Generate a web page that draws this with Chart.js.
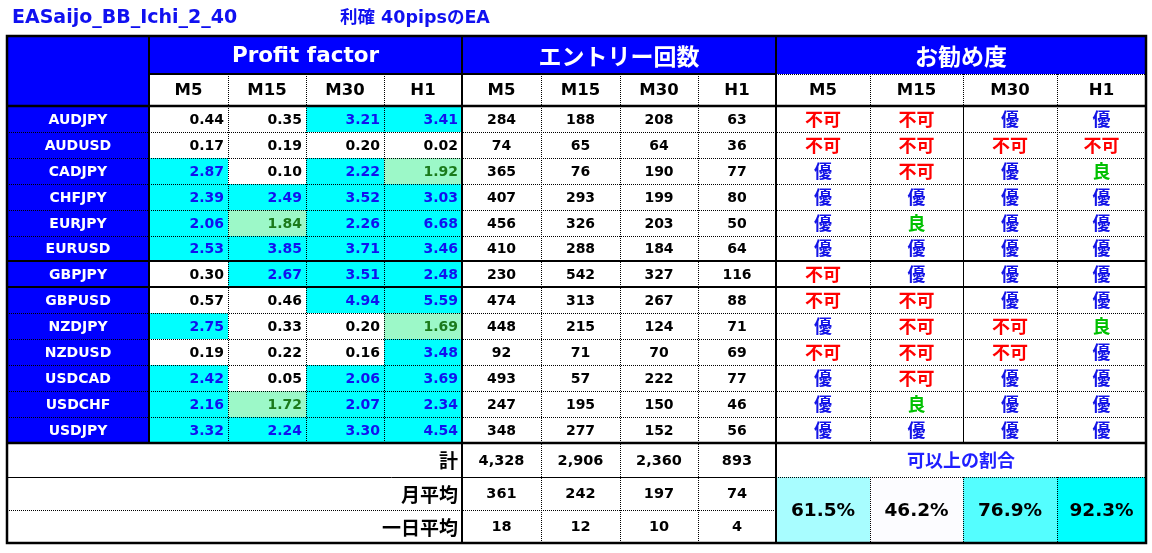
<!DOCTYPE html>
<html><head><meta charset="utf-8">
<script src="https://cdn.jsdelivr.net/npm/chart.js@4.4.0/dist/chart.umd.min.js"></script>
<style>html,body{margin:0;padding:0;background:#fff;}#wrap{width:1152px;height:553px;position:relative;}</style>
</head><body><div id="wrap"><canvas id="c"></canvas></div>
<script>
// ---- data ----
const titleMain = "EASaijo_BB_Ichi_2_40";
const titleSub = "利確 40pipsのEA";
const groupHeaders = ["Profit factor", "エントリー回数", "お勧め度"];
const timeframes = ["M5", "M15", "M30", "H1"];
const pairs = ["AUDJPY","AUDUSD","CADJPY","CHFJPY","EURJPY","EURUSD","GBPJPY","GBPUSD","NZDJPY","NZDUSD","USDCAD","USDCHF","USDJPY"];
const pfM5  = [0.44,0.17,2.87,2.39,2.06,2.53,0.30,0.57,2.75,0.19,2.42,2.16,3.32];
const pfM15 = [0.35,0.19,0.10,2.49,1.84,3.85,2.67,0.46,0.33,0.22,0.05,1.72,2.24];
const pfM30 = [3.21,0.20,2.22,3.52,2.26,3.71,3.51,4.94,0.20,0.16,2.06,2.07,3.30];
const pfH1  = [3.41,0.02,1.92,3.03,6.68,3.46,2.48,5.59,1.69,3.48,3.69,2.34,4.54];
const entM5  = [284,74,365,407,456,410,230,474,448,92,493,247,348];
const entM15 = [188,65,76,293,326,288,542,313,215,71,57,195,277];
const entM30 = [208,64,190,199,203,184,327,267,124,70,222,150,152];
const entH1  = [63,36,77,80,50,64,116,88,71,69,77,46,56];
const recM5  = ["不可","不可","優","優","優","優","不可","不可","優","不可","優","優","優"];
const recM15 = ["不可","不可","不可","優","良","優","優","不可","不可","不可","不可","良","優"];
const recM30 = ["優","不可","優","優","優","優","優","優","不可","不可","優","優","優"];
const recH1  = ["優","不可","良","優","優","優","優","優","良","優","優","優","優"];
const summaryLabels = ["計", "月平均", "一日平均"];
const totals = [4328, 2906, 2360, 893];
const monthlyAvg = [361, 242, 197, 74];
const dailyAvg = [18, 12, 10, 4];
const ratioLabel = "可以上の割合";
const okRatio = [61.5, 46.2, 76.9, 92.3];

// ---- layout (relative sizes) ----
const colW = [142, 79,78,78,78, 79,79,78,78, 94,93,94,89];
const rowH = [38, 32].concat(pairs.map(() => 25.9)).concat([34.3, 33, 33]);
const xEdges = [0]; colW.forEach(w => xEdges.push(xEdges[xEdges.length-1] + w));
const yEdges = [0]; rowH.forEach(h => yEdges.push(yEdges[yEdges.length-1] + h));

const pfCols = [pfM5, pfM15, pfM30, pfH1];
const entCols = [entM5, entM15, entM30, entH1];
const recCols = [recM5, recM15, recM30, recH1];

const BLUE = '#0000FF', CYAN = '#00FFFF', LGREEN = '#9CF8C8';
const LAT = "'DejaVu Sans', 'Noto Sans CJK JP', sans-serif";
const CJK = "'Noto Sans CJK JP', 'DejaVu Sans', sans-serif";
const fmt = new Intl.NumberFormat('en-US');

const tablePlugin = {
  id: 'tableDraw',
  afterDatasetsDraw(chart) {
    const ctx = chart.ctx;
    const xs = chart.scales.x, ys = chart.scales.y;
    const X = i => Math.round(xs.getPixelForValue(xEdges[i]));
    const Y = j => Math.round(ys.getPixelForValue(yEdges[j]));
    const fill = (c0, r0, c1, r1, col) => { ctx.fillStyle = col; ctx.fillRect(X(c0), Y(r0), X(c1)-X(c0), Y(r1)-Y(r0)); };
    const text = (s, px, py, font, col, align) => {
      ctx.font = font; ctx.fillStyle = col; ctx.textAlign = align || 'center'; ctx.textBaseline = 'middle';
      ctx.fillText(s, px, py);
    };
    const hline = (yy, c0, c1, w, dotted) => {
      ctx.save(); ctx.strokeStyle = '#000'; ctx.lineWidth = w;
      ctx.setLineDash(dotted ? [1,1] : []);
      const p = w % 2 === 1 ? 0.5 : 0;
      ctx.beginPath(); ctx.moveTo(X(c0), Y(yy)+p); ctx.lineTo(X(c1), Y(yy)+p); ctx.stroke(); ctx.restore();
    };
    const vline = (xx, r0, r1, w, dotted) => {
      ctx.save(); ctx.strokeStyle = '#000'; ctx.lineWidth = w;
      ctx.setLineDash(dotted ? [1,1] : []);
      const p = w % 2 === 1 ? 0.5 : 0;
      ctx.beginPath(); ctx.moveTo(X(xx)+p, Y(r0)); ctx.lineTo(X(xx)+p, Y(r1)); ctx.stroke(); ctx.restore();
    };
    const nR = pairs.length;
    const dataTop = 2, dataBot = 2 + nR;

    // titles
    text(titleMain, X(0)+5, Y(0)-18, `bold 19px ${LAT}`, '#1010F0', 'left');
    text(titleSub, X(0)+333, Y(0)-18, `bold 17.5px ${LAT}`, '#1010F0', 'left');

    // fills
    fill(0, 0, 1, dataBot, BLUE);
    fill(1, 0, 5, 1, BLUE); fill(5, 0, 9, 1, BLUE); fill(9, 0, 13, 1, BLUE);
    pfCols.forEach((col, ci) => col.forEach((v, ri) => {
      if (v >= 2) fill(1+ci, dataTop+ri, 2+ci, dataTop+ri+1, CYAN);
      else if (v >= 1.5) fill(1+ci, dataTop+ri, 2+ci, dataTop+ri+1, LGREEN);
    }));
    const mn = Math.min(...okRatio), mx = Math.max(...okRatio);
    okRatio.forEach((v, i) => {
      const t = (v - mn) / (mx - mn);
      const r = Math.round(252 * (1 - t)), g = Math.round(252 + 3 * t);
      fill(9+i, dataBot+1, 10+i, dataBot+3, `rgb(${r},${g},255)`);
    });

    // horizontal lines
    for (let j = dataTop+1; j < dataBot; j++) {
      if (j === dataTop+6 || j === dataTop+7) hline(j, 0, 13, 2, false);
      else hline(j, 0, 13, 1, true);
    }
    hline(1, 1, 9, 2, false); hline(1, 9, 13, 1, true);
    hline(2, 0, 13, 2.5, false);
    hline(dataBot, 0, 13, 2.5, false);
    hline(dataBot+1, 0, 9, 1, false); hline(dataBot+1, 9, 13, 1, true);
    hline(dataBot+2, 0, 9, 1, true);

    // vertical lines
    [2,3,4].forEach(c => vline(c, 1, dataBot, 1, true));
    [6,7,8].forEach(c => vline(c, 1, dataBot+3, 1, true));
    [10,12].forEach(c => { vline(c, 1, dataBot, 1, true); vline(c, dataBot+1, dataBot+3, 1, true); });
    vline(11, 1, 2, 1, true); vline(11, 2, dataBot, 1, false); vline(11, dataBot+1, dataBot+3, 1, true);
    vline(1, 0, dataBot, 2, false);
    vline(5, 0, dataBot+3, 2, false);
    vline(9, 0, dataBot+3, 2, false);

    // outer border
    ctx.save(); ctx.strokeStyle = '#000'; ctx.lineWidth = 2.5;
    ctx.strokeRect(X(0), Y(0), X(13)-X(0), Y(dataBot+3)-Y(0)); ctx.restore();

    const cx = c => (X(c)+X(c+1))/2, cy = r => (Y(r)+Y(r+1))/2;
    // headers
    text(groupHeaders[0], (X(1)+X(5))/2, cy(0)+1, `bold 21.5px ${LAT}`, '#fff');
    text(groupHeaders[1], (X(5)+X(9))/2, cy(0)+1, `bold 23px ${CJK}`, '#fff');
    text(groupHeaders[2], (X(9)+X(13))/2, cy(0)+1, `bold 23px ${CJK}`, '#fff');
    for (let g = 0; g < 3; g++) timeframes.forEach((tf, i) => text(tf, cx(1+g*4+i), cy(1)+1, `bold 16.5px ${LAT}`, '#000'));

    // data rows
    pairs.forEach((p, ri) => {
      const r = dataTop + ri;
      text(p, cx(0), cy(r)+1, `bold 14px ${LAT}`, '#fff');
      pfCols.forEach((col, ci) => {
        const v = col[ri];
        const color = v >= 2 ? '#1212EE' : (v >= 1.5 ? '#1B7A1B' : '#000');
        text(v.toFixed(2), X(2+ci)-4, cy(r)+1, `bold 14px ${LAT}`, color, 'right');
      });
      entCols.forEach((col, ci) => text(String(col[ri]), cx(5+ci), cy(r)+1, `bold 14px ${LAT}`, '#000'));
      recCols.forEach((col, ci) => {
        const s = col[ri];
        const color = s === '不可' ? '#FF0000' : (s === '良' ? '#00C000' : '#1414E6');
        text(s, cx(9+ci), cy(r), `bold 18px ${CJK}`, color);
      });
    });

    // summary rows
    summaryLabels.forEach((s, i) => text(s, X(5)-4, cy(dataBot+i)+1, `bold 19px ${CJK}`, '#000', 'right'));
    [totals, monthlyAvg, dailyAvg].forEach((arr, i) => arr.forEach((v, ci) =>
      text(fmt.format(v), cx(5+ci), cy(dataBot+i)+1, `bold 14.5px ${LAT}`, '#000')));
    text(ratioLabel, (X(9)+X(13))/2, cy(dataBot), `bold 18px ${CJK}`, '#1F1FFF');
    okRatio.forEach((v, i) => text(v.toFixed(1) + '%', cx(9+i), (Y(dataBot+1)+Y(dataBot+3))/2 + 1, `bold 18.5px ${LAT}`, '#000'));
  }
};

new Chart(document.getElementById('c'), {
  type: 'scatter',
  data: { datasets: [{ data: [], pointRadius: 0 }] },
  options: {
    responsive: true, maintainAspectRatio: false, animation: false, devicePixelRatio: 1,
    layout: { padding: { left: 7, top: 36, right: 6, bottom: 10 } },
    plugins: { legend: { display: false }, title: { display: false }, tooltip: { enabled: false } },
    scales: {
      x: { type: 'linear', display: false, min: 0, max: xEdges[xEdges.length-1] },
      y: { type: 'linear', display: false, reverse: true, min: 0, max: yEdges[yEdges.length-1] }
    }
  },
  plugins: [tablePlugin]
});
</script></body></html>
